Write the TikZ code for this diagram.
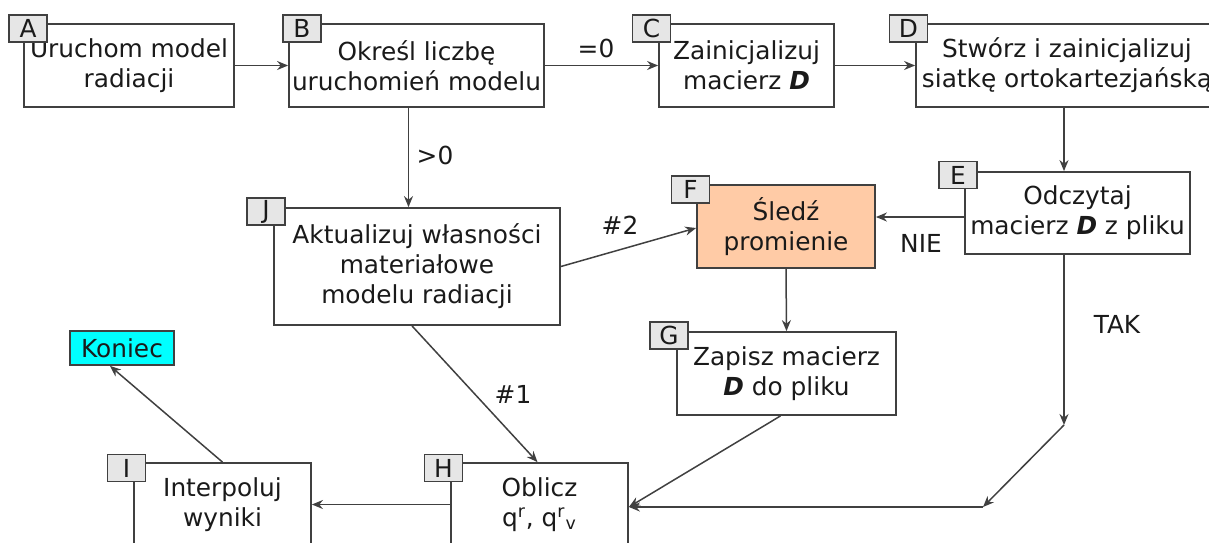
\documentclass[tikz,border=0pt]{standalone}
\usepackage{fontspec}
\setmainfont{DejaVu Sans}
\usetikzlibrary{arrows.meta,calc}
\definecolor{linec}{HTML}{404040}
\definecolor{txtc}{HTML}{1A1A1A}
\definecolor{lblgray}{HTML}{E6E6E6}
\definecolor{orangef}{HTML}{FFCBA6}
\definecolor{cyanf}{HTML}{00FFFF}
\newcommand{\Dm}{\textbf{\textit{D}}}
\tikzset{
  box/.style={draw=linec, line width=0.9pt, fill=white, align=center, inner sep=1pt,
    text=txtc, font=\fontsize{12.4}{15}\selectfont},
  lbl/.style={draw=linec, line width=0.8pt, fill=lblgray, minimum width=19pt, minimum height=13.5pt,
    inner sep=0pt, text=txtc, font=\fontsize{12.4}{15}\selectfont},
  arr/.style={-{Stealth[length=5.5pt,width=4.5pt]}, line width=0.75pt, draw=linec},
  elab/.style={text=txtc, font=\fontsize{12.4}{15}\selectfont, inner sep=0pt},
}
\begin{document}
\begin{tikzpicture}[x=0.5pt,y=-0.5pt]
\useasboundingbox (0,0) rectangle (1209,542);
\clip (0,0) rectangle (1209,542);
% boxes
\node[box, minimum width=105pt, minimum height=41.5pt] (A) at (129,65.5) {Uruchom model\\radiacji};
\node[box, minimum width=127.5pt, minimum height=41.5pt] (B) at (416.5,65.5) {Określ liczbę\\uruchomień modelu};
\node[box, minimum width=87.5pt, minimum height=41.5pt] (C) at (746.5,65.5) {Zainicjalizuj\\macierz \Dm};
\node[box, minimum width=151pt, minimum height=41.5pt] (D) at (1067,65.5) {Stwórz i zainicjalizuj\\siatkę ortokartezjańską};
\node[box, minimum width=112.5pt, minimum height=41pt] (E) at (1077.5,213) {Odczytaj\\macierz \Dm{} z pliku};
\node[box, fill=orangef, minimum width=89pt, minimum height=41.5pt] (F) at (786,226.5) {Śledź\\promienie};
\node[box, minimum width=143pt, minimum height=58.5pt] (J) at (417,266.5) {Aktualizuj własności\\materiałowe\\modelu radiacji};
\node[box, minimum width=109.5pt, minimum height=41.5pt] (G) at (786.5,373.5) {Zapisz macierz\\\Dm{} do pliku};
\node[box, minimum width=88.5pt, minimum height=41.5pt] (H) at (539.5,504.5) {Oblicz\\q\textsuperscript{r}, q\textsuperscript{r}\textsubscript{v}};
\node[box, minimum width=88.5pt, minimum height=41.5pt] (I) at (222.5,504.5) {Interpoluj\\wyniki};
\node[box, fill=cyanf, minimum width=52pt, minimum height=17pt, inner sep=0pt] (K) at (122,348) {Koniec};
% letter labels
\node[lbl] (lA) at (28,28.5) {A};
\node[lbl] (lB) at (302,28.5) {B};
\node[lbl] (lC) at (651.5,28.5) {C};
\node[lbl] (lD) at (908.5,28.5) {D};
\node[lbl] (lE) at (958,175) {E};
\node[lbl] (lF) at (690.5,189.5) {F};
\node[lbl] (lJ) at (266,211.5) {J};
\node[lbl] (lG) at (669,335.5) {G};
\node[lbl] (lH) at (443.5,468) {H};
\node[lbl] (lI) at (126.5,468) {I};
% helper coordinates
\coordinate (dS) at ($(D.south)+(-3,0)$);
\coordinate (bS) at ($(B.south)+(-8,0)$);
\coordinate (eW) at ($(E.west)+(0,4)$);
\coordinate (eS) at ($(E.south)+(-13.5,0)$);
\coordinate (t1) at (1064,425);
\coordinate (t2) at (983,507);
\coordinate (hE) at ($(H.east)+(0,2.5)$);
% connectors
\draw[arr] (A.east) -- (B.west);
\draw[arr] (B.east) -- (C.west);
\draw[arr] (C.east) -- (D.west);
\draw[arr] (dS) -- (dS |- E.north);
\draw[arr] (bS) -- (bS |- J.north);
\draw[arr] (J.east) -- ($(F.west)+(0,1.5)$);
\draw[arr] (eW) -- (eW -| F.east);
\draw[arr] (F.south) -- (G.north);
\draw[arr] (eS) -- (t1);
\draw[arr] (t1) -- (t2);
\draw[arr] (t2) -- (hE);
\draw[arr] ($(G.south)+(-6,0)$) -- (hE);
\draw[arr] ($(J.south)+(-5,0)$) -- ($(H.north)+(-2,0)$);
\draw[arr] (H.west) -- (I.east);
\draw[arr] (I.north) -- ($(K.south)+(-12,0)$);
% edge labels
\node[elab] (eq0) at (596,48) {=0};
\node[elab] (gt0) at (435,155) {>0};
\node[elab] (h2) at (620,225) {\#2};
\node[elab] (nie) at (921,243) {NIE};
\node[elab] (tak) at (1117,324) {TAK};
\node[elab] (h1) at (513,394) {\#1};
\end{tikzpicture}
\end{document}
